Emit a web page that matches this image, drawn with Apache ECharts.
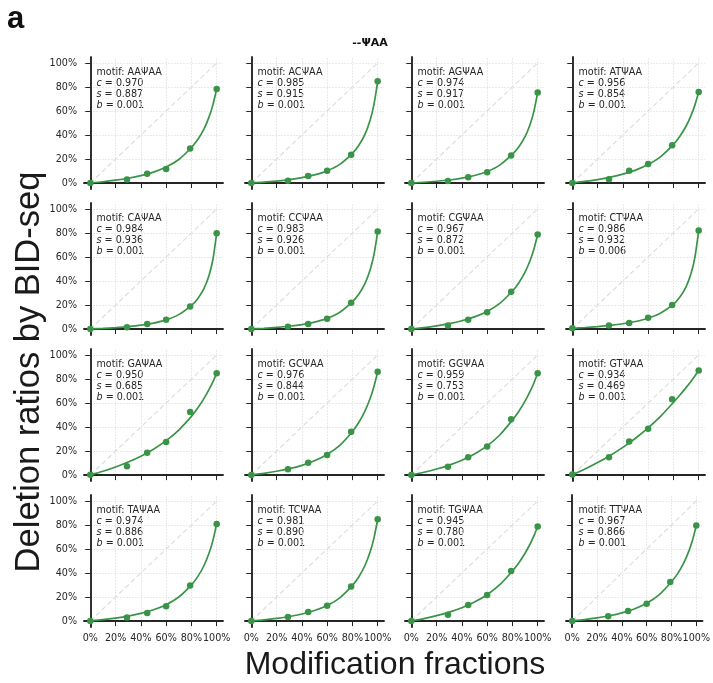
<!DOCTYPE html>
<html>
<head>
<meta charset="utf-8">
<script src="https://cdn.jsdelivr.net/npm/echarts@6/dist/echarts.min.js"></script>
<style>
  html, body { margin: 0; padding: 0; background: #ffffff; }
  #chart { width: 713px; height: 683px; }
</style>
</head>
<body>
<div id="chart"></div>
<script>
// Motifs, in panel order (row by row)
const motifs = ['AAΨAA', 'ACΨAA', 'AGΨAA', 'ATΨAA',
                'CAΨAA', 'CCΨAA', 'CGΨAA', 'CTΨAA',
                'GAΨAA', 'GCΨAA', 'GGΨAA', 'GTΨAA',
                'TAΨAA', 'TCΨAA', 'TGΨAA', 'TTΨAA'];

// Fitted parameters shown in each panel
const cVals = ['0.970', '0.985', '0.974', '0.956', '0.984', '0.983', '0.967', '0.986',
               '0.950', '0.976', '0.959', '0.934', '0.974', '0.981', '0.945', '0.967'];
const sVals = ['0.887', '0.915', '0.917', '0.854', '0.936', '0.926', '0.872', '0.932',
               '0.685', '0.844', '0.753', '0.469', '0.886', '0.890', '0.780', '0.866'];
const bVals = ['0.001', '0.001', '0.001', '0.001', '0.001', '0.001', '0.001', '0.006',
               '0.001', '0.001', '0.001', '0.001', '0.001', '0.001', '0.001', '0.001'];

// Spike-in modification fractions
const fractions = [0, 0.29, 0.45, 0.6, 0.79, 1.0];

// Measured deletion ratios at each fraction
const measAA = [0, 0.030, 0.078, 0.116, 0.288, 0.784];
const measAC = [0, 0.019, 0.058, 0.103, 0.236, 0.847];
const measAG = [0, 0.017, 0.047, 0.089, 0.230, 0.755];
const measAT = [0, 0.031, 0.103, 0.158, 0.314, 0.758];
const measCA = [0, 0.014, 0.042, 0.078, 0.188, 0.798];
const measCC = [0, 0.019, 0.042, 0.086, 0.219, 0.812];
const measCG = [0, 0.030, 0.078, 0.139, 0.310, 0.787];
const measCT = [0.006, 0.030, 0.050, 0.094, 0.199, 0.820];
const measGA = [0.002, 0.072, 0.186, 0.274, 0.524, 0.848];
const measGC = [0, 0.047, 0.102, 0.166, 0.360, 0.861];
const measGG = [0, 0.069, 0.147, 0.238, 0.465, 0.848];
const measGT = [0.004, 0.147, 0.280, 0.385, 0.632, 0.870];
const measTA = [0, 0.030, 0.066, 0.122, 0.296, 0.809];
const measTC = [0, 0.033, 0.075, 0.127, 0.288, 0.848];
const measTG = [0, 0.053, 0.133, 0.216, 0.416, 0.787];
const measTT = [0, 0.039, 0.083, 0.144, 0.324, 0.795];

// Fitted calibration curves, sampled along the fraction axis
const curveX = [0, 0.1, 0.2, 0.3, 0.4, 0.5, 0.6, 0.7, 0.8, 0.85, 0.9, 0.94, 0.97, 1.0];
const fitAA = [0.001, 0.0104, 0.0233, 0.0397, 0.0613, 0.0906, 0.1327, 0.196, 0.296, 0.362, 0.452, 0.551, 0.651, 0.783];
const fitAC = [0.001, 0.0072, 0.0163, 0.0281, 0.0443, 0.0672, 0.101, 0.155, 0.247, 0.312, 0.407, 0.523, 0.651, 0.847];
const fitAG = [0.001, 0.0063, 0.0144, 0.0251, 0.0403, 0.0622, 0.0957, 0.149, 0.240, 0.300, 0.386, 0.488, 0.597, 0.755];
const fitAT = [0.001, 0.0130, 0.0286, 0.0483, 0.0735, 0.1072, 0.1533, 0.2204, 0.3214, 0.387, 0.473, 0.563, 0.649, 0.758];
const fitCA = [0.001, 0.0051, 0.0115, 0.0201, 0.0321, 0.0496, 0.0763, 0.1198, 0.197, 0.253, 0.339, 0.448, 0.579, 0.798];
const fitCC = [0.001, 0.0058, 0.0130, 0.0230, 0.0369, 0.0574, 0.0888, 0.140, 0.229, 0.290, 0.381, 0.492, 0.617, 0.812];
const fitCG = [0.001, 0.0119, 0.0265, 0.0448, 0.0688, 0.1012, 0.1466, 0.2133, 0.3168, 0.384, 0.474, 0.571, 0.665, 0.787];
const fitCT = [0.006, 0.0123, 0.0201, 0.0302, 0.0436, 0.0622, 0.0895, 0.1328, 0.207, 0.265, 0.352, 0.464, 0.597, 0.820];
const fitGA = [0.001, 0.0308, 0.0664, 0.1077, 0.1565, 0.2149, 0.286, 0.3747, 0.4881, 0.5576, 0.6384, 0.7132, 0.7764, 0.847];
const fitGC = [0.001, 0.0141, 0.0312, 0.0527, 0.0807, 0.1183, 0.1707, 0.2467, 0.3627, 0.437, 0.535, 0.637, 0.736, 0.861];
const fitGG = [0.001, 0.0228, 0.0498, 0.0826, 0.1232, 0.175, 0.2422, 0.3335, 0.4578, 0.529, 0.615, 0.696, 0.767, 0.848];
const fitGT = [0.001, 0.0492, 0.1032, 0.1632, 0.2303, 0.306, 0.3922, 0.4907, 0.6044, 0.664, 0.728, 0.782, 0.825, 0.870];
const fitTA = [0.001, 0.0108, 0.0241, 0.0409, 0.0631, 0.0933, 0.1361, 0.200, 0.3014, 0.370, 0.4625, 0.566, 0.670, 0.809];
const fitTC = [0.001, 0.0098, 0.0219, 0.0375, 0.0584, 0.0873, 0.1292, 0.1931, 0.2967, 0.367, 0.4645, 0.575, 0.689, 0.848];
const fitTG = [0.001, 0.0204, 0.0445, 0.0739, 0.1106, 0.1575, 0.2187, 0.3023, 0.4171, 0.484, 0.5645, 0.6416, 0.709, 0.787];
const fitTT = [0.001, 0.0114, 0.0254, 0.0435, 0.0675, 0.1005, 0.1475, 0.2176, 0.327, 0.395, 0.486, 0.582, 0.675, 0.795];

// Axis ticks (shared by both axes of every panel)
const ticks = [0, 0.2, 0.4, 0.6, 0.8, 1.0];

const measured = [measAA, measAC, measAG, measAT, measCA, measCC, measCG, measCT,
                  measGA, measGC, measGG, measGT, measTA, measTC, measTG, measTT];
const fitted = [fitAA, fitAC, fitAG, fitAT, fitCA, fitCC, fitCG, fitCT,
                fitGA, fitGC, fitGG, fitGT, fitTA, fitTC, fitTG, fitTT];

const GREEN = '#3a9448';
const INK = '#262626';
const colLeft = [84, 245, 405, 566];
const rowTop = [57, 203, 349, 495];
const PW = 139, PH = 132;

const pct = v => Math.round(v * 100) + '%';

const grids = [], xAxes = [], yAxes = [], series = [], graphics = [];

motifs.forEach((m, i) => {
  const r = Math.floor(i / 4), c = i % 4;
  grids.push({ left: colLeft[c], top: rowTop[r], width: PW, height: PH });

  xAxes.push({
    gridIndex: i, type: 'value', min: -0.05, max: 1.05,
    axisLine: { show: true, lineStyle: { color: INK, width: 1.9 } },
    axisTick: { show: true, length: 5, customValues: ticks, lineStyle: { color: INK, width: 1 } },
    axisLabel: {
      show: r === 3, customValues: ticks, formatter: pct, margin: 6,
      hideOverlap: false, interval: 0, showMinLabel: true, showMaxLabel: true,
      fontSize: 9.6, color: INK, fontFamily: 'DejaVu Sans'
    },
    splitLine: { show: false }
  });
  yAxes.push({
    gridIndex: i, type: 'value', min: -0.05, max: 1.05,
    axisLine: { show: true, lineStyle: { color: INK, width: 1.9 } },
    axisTick: { show: true, length: 5, customValues: ticks, lineStyle: { color: INK, width: 1 } },
    axisLabel: {
      show: c === 0, customValues: ticks, formatter: pct, margin: 7,
      hideOverlap: false, interval: 0, showMinLabel: true, showMaxLabel: true,
      fontSize: 9.6, color: INK, fontFamily: 'DejaVu Sans'
    },
    splitLine: { show: false }
  });

  // identity reference line, with the panel's grid lines as mark lines
  series.push({
    type: 'line', xAxisIndex: i, yAxisIndex: i, silent: true, z: 1,
    data: [[0, 0], [1, 1]], symbol: 'none',
    lineStyle: { color: '#dedede', width: 1.2, type: [5, 3] },
    markLine: {
      z: 0, silent: true, symbol: ['none', 'none'], label: { show: false },
      lineStyle: { color: '#e4e4e4', width: 0.8, type: [2, 1] },
      data: ticks.map(v => ({ xAxis: v })).concat(ticks.map(v => ({ yAxis: v })))
    }
  });
  // fitted calibration curve
  series.push({
    type: 'line', xAxisIndex: i, yAxisIndex: i, z: 8,
    data: curveX.map((x, k) => [x, fitted[i][k]]),
    smooth: 0.25, showSymbol: false, symbol: 'none',
    lineStyle: { color: GREEN, width: 1.7 }
  });
  // measured deletion ratios
  series.push({
    type: 'scatter', xAxisIndex: i, yAxisIndex: i, z: 10,
    data: fractions.map((x, k) => [x, measured[i][k]]),
    symbolSize: 6.5, itemStyle: { color: GREEN, opacity: 1 }
  });

  graphics.push({
    type: 'text', left: colLeft[c] + 12.5, top: rowTop[r] + 10.5,
    style: {
      text: 'motif: ' + m + '\n{it|c} = ' + cVals[i] + '\n{it|s} = ' + sVals[i] + '\n{it|b} = ' + bVals[i],
      font: '9.6px "DejaVu Sans"', fill: INK, lineHeight: 10.8,
      rich: { it: { fontStyle: 'italic', fontFamily: 'DejaVu Sans', fontSize: 9.6, fill: INK, lineHeight: 10.8 } }
    }
  });
});

graphics.push(
  { type: 'text', left: 7, top: 4,
    style: { text: 'a', font: 'bold 31px "Liberation Sans"', fill: '#111' } },
  { type: 'text', x: 370, y: 43,
    style: { text: '--ΨAA', font: 'bold 11px "DejaVu Sans"', fill: '#111', align: 'center', verticalAlign: 'middle' } },
  { type: 'text', x: 29, y: 372, rotation: Math.PI / 2,
    style: { text: 'Deletion ratios by BID-seq', font: '34.5px "Liberation Sans"', fill: '#1a1a1a', align: 'center', verticalAlign: 'middle' } },
  { type: 'text', x: 395, y: 665,
    style: { text: 'Modification fractions', font: '32px "Liberation Sans"', fill: '#1a1a1a', align: 'center', verticalAlign: 'middle' } }
);

const chart = echarts.init(document.getElementById('chart'), null, { renderer: 'canvas' });
chart.setOption({
  animation: false,
  backgroundColor: '#ffffff',
  grid: grids,
  xAxis: xAxes,
  yAxis: yAxes,
  series: series,
  graphic: graphics
});
</script>
</body>
</html>
